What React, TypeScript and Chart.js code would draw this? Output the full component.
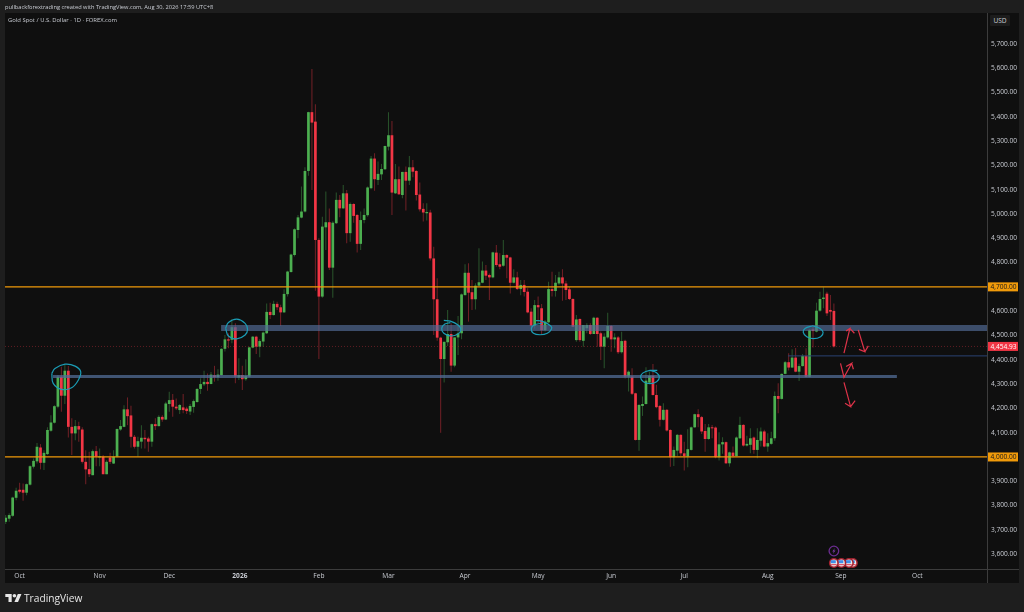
import { useEffect, useRef } from "react";
import { Chart, registerables } from "chart.js";

Chart.register(...registerables);

const opens = [
  3733,3746,3758,3832,3865,3865,3853,3886,3960,3982,
  4039,3976,4012,4108,4141,4207,4330,4252,4355,4124,
  4097,4127,4113,3980,3950,3925,4024,3998,4001,3929,
  3998,3973,4001,4113,4124,4196,4171,4083,4042,4063,
  4079,4076,4063,4135,4127,4165,4154,4218,4235,4207,
  4193,4204,4199,4187,4206,4226,4280,4299,4309,4300,
  4337,4328,4337,4445,4484,4482,4534,4327,4337,4320,
  4331,4450,4495,4454,4475,4509,4597,4584,4630,4616,
  4595,4670,4761,4831,4934,4985,5010,5177,5419,5380,
  4893,4660,4945,4966,4779,4962,5058,5023,5085,4921,
  5041,4996,4877,4975,4995,5106,5228,5140,5163,5184,
  5277,5324,5085,5143,5078,5173,5137,5192,5177,5080,
  5021,5003,5006,4817,4649,4491,4403,4472,4506,4376,
  4492,4509,4666,4758,4678,4649,4705,4717,4767,4749,
  4739,4841,4793,4787,4831,4821,4717,4739,4691,4708,
  4680,4598,4540,4625,4612,4522,4554,4691,4683,4714,
  4739,4714,4690,4650,4481,4568,4478,4530,4543,4506,
  4573,4509,4454,4492,4539,4484,4492,4431,4478,4331,
  4331,4262,4070,4210,4218,4306,4334,4255,4210,4153,
  4194,4111,3999,4026,4091,4015,4002,4029,4122,4176,
  4164,4107,4074,4122,4121,3999,4052,4061,3974,4018,
  4004,4077,4132,4047,4050,4080,4029,4067,4105,4043,
  4054,4077,4251,4239,4342,4390,4368,4409,4351,4374,
  4416,4330,4525,4516,4602,4650,4672,4605,4601,
];
const highs = [
  3761,3768,3836,3873,3894,3891,3891,3966,3994,4058,
  4053,4028,4122,4172,4213,4337,4371,4378,4374,4159,
  4152,4145,4122,4028,4021,4031,4045,4035,4008,3987,
  4017,4028,4117,4152,4213,4245,4211,4090,4083,4131,
  4111,4083,4138,4159,4172,4172,4227,4268,4259,4241,
  4218,4259,4207,4218,4237,4283,4324,4355,4344,4350,
  4375,4361,4447,4502,4509,4568,4550,4406,4375,4402,
  4454,4498,4499,4484,4516,4632,4635,4643,4639,4626,
  4690,4766,4836,4941,4996,5113,5192,5421,5597,5451,
  4900,4989,5092,5023,4970,5088,5078,5119,5099,5047,
  5044,4999,5010,5023,5113,5239,5250,5216,5206,5280,
  5419,5383,5206,5195,5174,5195,5239,5222,5180,5130,
  5044,5044,5017,4865,4735,4495,4474,4605,4550,4492,
  4580,4673,4793,4797,4728,4715,4859,4804,4790,4755,
  4845,4872,4838,4893,4834,4824,4772,4762,4728,4728,
  4694,4612,4646,4660,4629,4564,4721,4762,4749,4762,
  4772,4725,4701,4653,4584,4570,4543,4550,4550,4577,
  4575,4516,4509,4594,4543,4509,4498,4515,4482,4356,
  4365,4264,4218,4249,4369,4351,4383,4297,4214,4221,
  4197,4114,4043,4095,4094,4063,4114,4125,4178,4196,
  4169,4136,4136,4132,4125,4102,4081,4064,4022,4043,
  4084,4166,4135,4087,4118,4084,4118,4121,4112,4098,
  4104,4269,4303,4344,4395,4427,4443,4448,4384,4424,
  4447,4526,4536,4635,4680,4698,4680,4667,4632,
];
const lows = [
  3724,3733,3754,3822,3850,3820,3843,3883,3953,3973,
  3949,3946,4008,4104,4138,4200,4186,4218,4080,4008,
  4069,4063,3973,3888,3918,3925,3962,3962,3929,3929,
  3971,3971,3998,4108,4122,4131,4039,4035,4001,4035,
  4035,4021,4042,4111,4125,4145,4152,4186,4166,4193,
  4177,4180,4177,4173,4182,4224,4259,4292,4273,4300,
  4310,4314,4335,4434,4447,4468,4303,4317,4276,4314,
  4328,4447,4424,4410,4454,4506,4568,4582,4605,4539,
  4594,4660,4759,4825,4900,4982,5006,5157,5099,4684,
  4403,4655,4852,4769,4655,4959,4986,5021,4879,4886,
  4964,4841,4852,4962,4989,5102,5096,5119,5140,5181,
  5261,4996,5082,5078,5065,5014,5119,5151,5055,5010,
  4969,4973,4808,4502,4478,4100,4306,4457,4351,4369,
  4420,4484,4664,4557,4605,4607,4704,4715,4728,4646,
  4735,4783,4772,4783,4735,4673,4714,4687,4666,4660,
  4591,4529,4529,4550,4502,4516,4552,4660,4660,4708,
  4643,4646,4646,4536,4474,4474,4454,4509,4502,4506,
  4454,4399,4365,4488,4433,4447,4424,4426,4323,4269,
  4255,4068,4026,4169,4216,4304,4253,4201,4125,4150,
  4105,3960,3963,4004,4004,3944,3958,4027,4120,4122,
  4095,4022,4071,4077,3995,3985,4013,3971,3960,3998,
  4002,4074,4043,4043,4015,4013,3995,4043,4040,4022,
  4050,4067,4180,4237,4340,4356,4366,4349,4313,4372,
  4328,4328,4451,4513,4598,4612,4580,4564,4451,
];
const closes = [
  3750,3761,3833,3861,3857,3853,3888,3962,3984,4042,
  3976,4017,4111,4142,4209,4330,4252,4355,4124,4097,
  4127,4113,3980,3949,3929,4024,4001,4003,3929,3980,
  3980,4001,4115,4127,4196,4168,4083,4042,4065,4079,
  4073,4063,4135,4127,4165,4154,4220,4234,4207,4200,
  4214,4193,4189,4210,4230,4280,4300,4309,4300,4339,
  4328,4339,4445,4484,4479,4534,4331,4337,4320,4333,
  4451,4495,4454,4477,4512,4597,4584,4630,4616,4595,
  4671,4763,4833,4937,4986,5010,5177,5419,5376,4893,
  4660,4948,4966,4779,4964,5058,5023,5085,4921,5041,
  4992,4877,4975,4996,5109,5228,5143,5165,5185,5280,
  5324,5088,5143,5081,5173,5137,5192,5174,5078,5019,
  5006,5008,4817,4649,4491,4403,4474,4506,4376,4492,
  4509,4669,4758,4676,4649,4705,4719,4767,4746,4739,
  4842,4790,4783,4831,4820,4717,4739,4691,4708,4679,
  4595,4540,4625,4616,4522,4557,4691,4683,4717,4739,
  4714,4687,4650,4536,4566,4481,4543,4543,4506,4573,
  4506,4454,4495,4539,4484,4492,4431,4477,4331,4351,
  4260,4070,4214,4218,4314,4334,4255,4205,4153,4194,
  4109,3999,4029,4091,4015,4004,4032,4122,4176,4164,
  4105,4074,4122,4118,3999,4052,4061,3974,4019,4004,
  4080,4132,4047,4054,4077,4029,4070,4105,4043,4057,
  4077,4251,4239,4342,4390,4368,4409,4351,4374,4416,
  4330,4523,4518,4602,4650,4656,4591,4598,4454.93,
];

const monthIndex = [4, 27, 47, 67.3, 90, 110, 132, 153, 174, 195, 219, 240, 262];
const monthLabels = ["Oct", "Nov", "Dec", "2026", "Feb", "Mar", "Apr", "May", "Jun", "Jul", "Aug", "Sep", "Oct"];

const FIRST_SLOT = -0.2;
const LAST_SLOT = 282;
const LEVEL_HIGH = 4700;
const LEVEL_LOW = 4000;
const LAST_PRICE = 4454.93;
const ZONE_UPPER = 4531;
const ZONE_LOWER = 4331;
const MINOR_LEVEL = 4416;

const upperZoneRange = [61.9, LAST_SLOT];
const lowerZoneRange = [13.6, 256.1];
const minorLevelRange = [224.8, LAST_SLOT];

const circles = [
  [[13.25,4344],[14.15,4364],[17.05,4382],[19.95,4374],[21.55,4351],[20.85,4316],[18.95,4285],[16.05,4278],[13.65,4303],[13.25,4344]],
  [[63.2,4530],[64,4553],[66.4,4567],[68.8,4550],[69.5,4525],[68.8,4502],[66.4,4486],[64,4498],[63.2,4530]],
  [[125.9,4562],[127.8,4559],[130,4543],[130.8,4525],[130,4506],[127.8,4498],[125.9,4509],[125.3,4529],[126.2,4547],[127.8,4553]],
  [[152.35,4561],[154.05,4559],[156.65,4539],[156.85,4527],[155.65,4509],[153.55,4503],[151.65,4509],[151.05,4527],[151.85,4543],[154.05,4550]],
  [[187.25,4356],[185.15,4356],[183.05,4345],[182.45,4328],[183.25,4310],[185.15,4302],[187.05,4310],[187.85,4328],[187.05,4347],[185.15,4356]],
  [[231.9,4540],[229.7,4529],[229.2,4513],[230.2,4495],[232.1,4487],[234.2,4495],[234.9,4513],[234,4529],[231.9,4540]],
];
const arrows = [
  [[240.9,4427],[242.6,4529],[241.5,4518],[242.6,4529],[243.9,4509]],
  [[245,4523],[246.9,4433],[245.2,4443],[246.9,4433],[247.9,4457]],
  [[239.9,4385],[240.9,4328],[243.1,4385],[241.5,4372],[243.1,4385],[243.6,4361]],
  [[240.9,4307],[242.8,4207],[241.2,4221],[242.8,4207],[244.1,4232]],
];

const GREEN = "#4caf50";
const RED = "#f23645";
const GREEN_WICK = "rgba(76,175,80,0.42)";
const RED_WICK = "rgba(242,54,69,0.42)";
const ORANGE = "#f09a0a";
const TEXT = "#c9ccd3";
const FONT = '"Open Sans", "Noto Sans", sans-serif';

const fmt = (v: number) =>
  v.toLocaleString("en-US", { minimumFractionDigits: 2, maximumFractionDigits: 2 });

const pts = (a: number[][]) => a.map(([x, y]) => ({ x, y }));

const frame = {
  id: "frame",
  beforeDraw(chart: any) {
    const { ctx, chartArea: a } = chart;
    ctx.save();
    ctx.fillStyle = "#1e1e1e";
    ctx.fillRect(0, 0, chart.width, chart.height);
    ctx.fillStyle = "#0f0f0f";
    ctx.fillRect(5, 13, 1014, 570);
    ctx.strokeStyle = "#3c3c3c";
    ctx.lineWidth = 1;
    ctx.beginPath();
    ctx.moveTo(a.right + 0.5, 13);
    ctx.lineTo(a.right + 0.5, 583);
    ctx.moveTo(5, a.bottom + 0.5);
    ctx.lineTo(1019, a.bottom + 0.5);
    ctx.stroke();
    ctx.restore();
  },
  afterDraw(chart: any) {
    const { ctx, chartArea: a, scales } = chart;
    const tag = (value: number, bg: string, fg: string) => {
      const y = scales.y.getPixelForValue(value);
      ctx.fillStyle = bg;
      ctx.fillRect(a.right + 1, y - 4.5, 30, 9);
      ctx.fillStyle = fg;
      ctx.font = `6.6px ${FONT}`;
      ctx.textBaseline = "middle";
      ctx.textAlign = "left";
      ctx.fillText(fmt(value), a.right + 3.5, y + 0.3);
    };
    ctx.save();
    tag(LEVEL_HIGH, ORANGE, "#16181d");
    tag(LEVEL_LOW, ORANGE, "#16181d");
    tag(LAST_PRICE, "#f23645", "#ffffff");

    const ex = scales.x.getPixelForValue(238);
    const ey = a.bottom - 18;
    ctx.strokeStyle = "#6c2d91";
    ctx.lineWidth = 1.3;
    ctx.beginPath();
    ctx.arc(ex, ey, 4.8, 0, Math.PI * 2);
    ctx.stroke();
    ctx.fillStyle = "#7c3aa5";
    ctx.beginPath();
    ctx.moveTo(ex + 1, ey - 3);
    ctx.lineTo(ex - 1.6, ey + 0.6);
    ctx.lineTo(ex - 0.1, ey + 0.6);
    ctx.lineTo(ex - 1, ey + 3);
    ctx.lineTo(ex + 1.6, ey - 0.6);
    ctx.lineTo(ex + 0.1, ey - 0.6);
    ctx.closePath();
    ctx.fill();
    [19, 15, 7.5, 0].forEach((off) => {
      const fx = ex + off;
      const fy = a.bottom - 6;
      ctx.fillStyle = "#a5222f";
      ctx.beginPath();
      ctx.arc(fx, fy, 5, 0, Math.PI * 2);
      ctx.fill();
      ctx.fillStyle = "#eee6e6";
      ctx.beginPath();
      ctx.arc(fx, fy, 3.4, 0, Math.PI * 2);
      ctx.fill();
      ctx.fillStyle = "#3f8ee8";
      ctx.fillRect(fx - 3.1, fy - 2.8, 5, 3);
      ctx.fillStyle = "#d9334a";
      ctx.fillRect(fx - 2.8, fy + 1.2, 5.6, 1);
    });
    ctx.restore();
  },
};

export default function App() {
  const ref = useRef<HTMLCanvasElement>(null);
  useEffect(() => {
    const idx = opens.map((_, i) => i);
    const up = idx.map((i) => closes[i] >= opens[i]);
    const line = (data: any[], color: string, width: number, extra: any = {}) => ({
      type: "line",
      data,
      borderColor: color,
      borderWidth: width,
      pointRadius: 0,
      fill: false,
      order: 1,
      ...extra,
    });
    const chart = new Chart(ref.current as HTMLCanvasElement, {
      type: "bar",
      data: {
        datasets: [
          {
            data: idx.map((i) => ({ x: i, y: [lows[i], highs[i]] })),
            backgroundColor: up.map((u) => (u ? GREEN_WICK : RED_WICK)),
            grouped: false,
            barPercentage: 0.3,
            categoryPercentage: 1,
            order: 5,
          },
          {
            data: idx.map((i) => ({ x: i, y: [opens[i], closes[i]] })),
            backgroundColor: up.map((u) => (u ? GREEN : RED)),
            grouped: false,
            barPercentage: 0.78,
            categoryPercentage: 1,
            minBarLength: 1,
            order: 4,
          },
          line(pts([[FIRST_SLOT, LAST_PRICE], [LAST_SLOT, LAST_PRICE]]), "rgba(242,54,69,0.45)", 0.8, { borderDash: [1, 2], order: 3 }),
          line(pts([[upperZoneRange[0], ZONE_UPPER], [upperZoneRange[1], ZONE_UPPER]]), "rgba(82,108,150,0.68)", 6),
          line(pts([[lowerZoneRange[0], ZONE_LOWER], [lowerZoneRange[1], ZONE_LOWER]]), "rgba(82,108,150,0.75)", 3),
          line(pts([[minorLevelRange[0], MINOR_LEVEL], [minorLevelRange[1], MINOR_LEVEL]]), "#2b4272", 1),
          line(pts([[FIRST_SLOT, LEVEL_HIGH], [LAST_SLOT, LEVEL_HIGH]]), ORANGE, 1.3),
          line(pts([[FIRST_SLOT, LEVEL_LOW], [LAST_SLOT, LEVEL_LOW]]), ORANGE, 1.3),
          ...circles.map((c) => line(pts(c), "#1b9db6", 1.2, { tension: 0.4, order: 0 })),
          ...arrows.map((a) => line(pts(a), "#df3349", 1.2, { order: 0 })),
        ] as any,
      },
      options: {
        responsive: false,
        animation: false,
        devicePixelRatio: 1,
        layout: { padding: { left: 5, top: 13, right: 5, bottom: 29 } },
        plugins: { legend: { display: false }, tooltip: { enabled: false } },
        events: [],
        scales: {
          x: {
            type: "linear",
            offset: false,
            min: FIRST_SLOT,
            max: LAST_SLOT,
            grid: { display: false, drawTicks: false },
            border: { display: false },
            afterBuildTicks: (s: any) => {
              s.ticks = monthIndex.map((value) => ({ value }));
            },
            afterFit: (s: any) => {
              s.height = 14;
            },
            ticks: {
              autoSkip: false,
              maxRotation: 0,
              minRotation: 0,
              padding: 3,
              color: TEXT,
              font: (c: any) => ({ family: FONT, size: 6.6, weight: c.index === 3 ? "bold" : "normal" }),
              callback: (_v: any, i: number) => monthLabels[i],
            },
          },
          y: {
            type: "linear",
            position: "right",
            beginAtZero: false,
            min: 3539,
            max: 5827,
            grid: { display: false, drawTicks: false },
            border: { display: false },
            afterFit: (s: any) => {
              s.width = 32;
            },
            ticks: {
              stepSize: 100,
              includeBounds: false,
              crossAlign: "near",
              padding: 4,
              color: TEXT,
              font: { family: FONT, size: 6.6 },
              callback: (v: any) => fmt(Number(v)),
            },
          },
        },
      } as any,
      plugins: [frame],
    } as any);
    return () => chart.destroy();
  }, []);

  const abs = (left: number, top: number, size: number, color = TEXT): any => ({
    position: "absolute",
    left,
    top,
    fontFamily: FONT,
    fontSize: size,
    lineHeight: "10px",
    color,
    whiteSpace: "nowrap",
  });

  return (
    <div style={{ position: "fixed", left: 0, top: 0, width: 1024, height: 612, background: "#1e1e1e", overflow: "hidden" }}>
      <canvas ref={ref} width={1024} height={612} style={{ display: "block", width: 1024, height: 612 }} />
      <div style={abs(5, 2, 5.7)}>pullbackforextrading created with TradingView.com, Aug 30, 2026 17:59 UTC+8</div>
      <div style={abs(8, 15, 5.9)}>Gold Spot / U.S. Dollar · 1D · FOREX.com</div>
      <div
        style={{
          ...abs(988, 14, 6.6),
          width: 30,
          height: 14,
          lineHeight: "14px",
          background: "#0f0f0f",
        }}
      >
        <span style={{ display: "inline-block", width: 20, marginLeft: 2, height: 11, lineHeight: "11px", textAlign: "center", background: "#1c1c1c", borderRadius: 1 }}>USD</span>
      </div>
      <svg style={{ position: "absolute", left: 5, top: 593 }} width="17" height="10" viewBox="0 0 36 22">
        <path d="M14 20H7V9H0V2h14v18zM28 20h-8l7.5-18h8L28 20z" fill="#e6e6e6" />
        <circle cx="20" cy="6" r="4" fill="#e6e6e6" />
      </svg>
      <div style={{ ...abs(24, 593, 10.2, "#e6e6e6"), fontWeight: 500 }}>TradingView</div>
    </div>
  );
}
